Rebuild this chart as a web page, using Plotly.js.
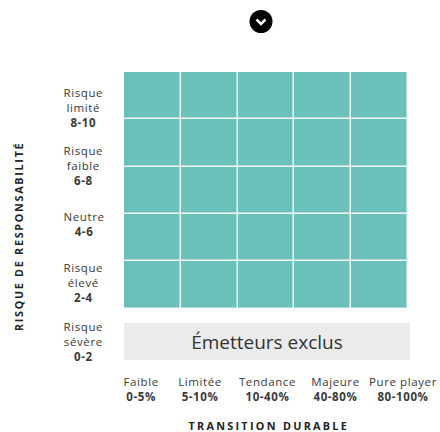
<!DOCTYPE html>
<html>
<head>
<meta charset="utf-8">
<script src="https://cdn.plot.ly/plotly-3.0.1.min.js"></script>
<style>
html,body{margin:0;padding:0;background:#fff;}
#chart{width:440px;height:432px;}
</style>
</head>
<body>
<div id="chart"></div>
<script>
// ---- data ----
const transitionLevels = ['Faible', 'Limitée', 'Tendance', 'Majeure', 'Pure player'];
const transitionRanges = ['0-5%', '5-10%', '10-40%', '40-80%', '80-100%'];
const riskLevels = [['Risque', 'limité'], ['Risque', 'faible'], ['Neutre'], ['Risque', 'élevé'], ['Risque', 'sévère']];
const riskRanges = ['8-10', '6-8', '4-6', '2-4', '0-2'];
const eligibleGrid = [
  [1, 1, 1, 1, 1],
  [1, 1, 1, 1, 1],
  [1, 1, 1, 1, 1],
  [1, 1, 1, 1, 1],
  [1, 1, 1, 1, 1]
];
const excludedLabel = 'Émetteurs exclus';
const xTitle = 'TRANSITION DURABLE';
const yTitle = 'RISQUE DE RESPONSABILITÉ';

// ---- layout helpers (pixel -> paper) ----
const W = 440, H = 432, L = 124, R = 30, T = 72, B = 72;
const PW = W - L - R, PH = H - T - B;
const px = x => (x - L) / PW;
const py = y => (H - B - y) / PH;

const FONT = '"Open Sans", Lato, sans-serif';
const teal = '#6bc1b9';

const gridRowIdx = eligibleGrid.map((_, i) => i);
const gridColIdx = transitionLevels.map((_, i) => i);

const traces = [
  {
    type: 'heatmap',
    x: gridColIdx,
    y: gridRowIdx,
    z: eligibleGrid,
    colorscale: [[0, teal], [1, teal]],
    showscale: false,
    xgap: 1.5,
    ygap: 1.5,
    hoverinfo: 'skip',
    xaxis: 'x',
    yaxis: 'y'
  },
  {
    type: 'heatmap',
    x: [0],
    y: [0],
    z: [[0]],
    text: [[excludedLabel]],
    texttemplate: '%{text}',
    textfont: {family: FONT, size: 19, color: '#333'},
    colorscale: [[0, '#ebebeb'], [1, '#ebebeb']],
    showscale: false,
    hoverinfo: 'skip',
    xaxis: 'x2',
    yaxis: 'y2'
  }
];

const annotations = [];
function addBlock(lines, cx, cy) {
  annotations.push({
    xref: 'paper', yref: 'paper',
    x: px(cx), y: py(cy),
    xanchor: 'center', yanchor: 'middle',
    text: lines.join('<br>'), showarrow: false,
    align: 'center',
    font: {family: FONT, size: 11.5, color: '#3a3a3a'},
    name: 'lbl'
  });
}
// left labels
riskLevels.forEach((lab, i) => {
  addBlock(lab.concat(['<b>' + riskRanges[i] + '</b>']), 83, 107.5 + i * 58.4);
});
// bottom labels
const bottomX = [141, 199.5, 267, 335, 402.5];
transitionLevels.forEach((lab, i) => {
  addBlock([lab, '<b>' + transitionRanges[i] + '</b>'], bottomX[i], 388.5);
});
// axis titles
annotations.push({
  xref: 'paper', yref: 'paper',
  x: px(267.5), y: py(425.5),
  xanchor: 'center', yanchor: 'middle',
  text: '<b>' + xTitle + '</b>',
  showarrow: false,
  font: {family: FONT, size: 10.8, color: '#222'},
  name: 'xtitle'
});
annotations.push({
  xref: 'paper', yref: 'paper',
  x: px(18), y: py(237.5),
  xanchor: 'center', yanchor: 'middle',
  textangle: -90,
  text: '<b>' + yTitle + '</b>',
  showarrow: false,
  font: {family: FONT, size: 10.8, color: '#222'},
  name: 'ytitle'
});

const shapes = [
  {type: 'circle', xref: 'paper', yref: 'paper',
   x0: px(249.5), x1: px(272.5), y0: py(33), y1: py(10),
   fillcolor: '#000', line: {width: 0}},
  {type: 'path', xref: 'paper', yref: 'paper',
   path: 'M ' + px(256.5) + ' ' + py(19.5) + ' L ' + px(261) + ' ' + py(24) + ' L ' + px(265.5) + ' ' + py(19.5),
   line: {color: '#fff', width: 2.5}}
];

const axisHidden = {showgrid: false, zeroline: false, showticklabels: false, ticks: '', showline: false, fixedrange: true};

const layout = {
  width: W, height: H,
  margin: {l: L, r: R, t: T, b: B, pad: 0},
  paper_bgcolor: '#fff',
  plot_bgcolor: '#f3f8f7',
  showlegend: false,
  xaxis: Object.assign({}, axisHidden, {domain: [0, px(408)], range: [-0.5, 4.5]}),
  yaxis: Object.assign({}, axisHidden, {domain: [py(308.5), 1], range: [4.5, -0.5]}),
  xaxis2: Object.assign({}, axisHidden, {domain: [0, 1], anchor: 'y2', range: [-0.5, 0.5]}),
  yaxis2: Object.assign({}, axisHidden, {domain: [0, py(323)], anchor: 'x2', range: [-0.5, 0.5]}),
  annotations: annotations,
  shapes: shapes
};

Plotly.newPlot('chart', traces, layout, {displayModeBar: false, staticPlot: true}).then(gd => {
  const nodes = gd.querySelectorAll('.annotation');
  nodes.forEach(g => {
    const idx = +g.getAttribute('data-index');
    const a = annotations[idx];
    const txt = g.querySelector('text');
    if (!txt || !a) return;
    let ls = 0.6;
    if (a.name === 'xtitle') ls = 2.3;
    if (a.name === 'ytitle') ls = 1.7;
    txt.style.letterSpacing = ls + 'px';
    const tr = txt.getAttribute('transform') || '';
    txt.setAttribute('transform', tr + ' translate(' + (ls / 2) + ',0)');
  });
});
</script>
</body>
</html>
